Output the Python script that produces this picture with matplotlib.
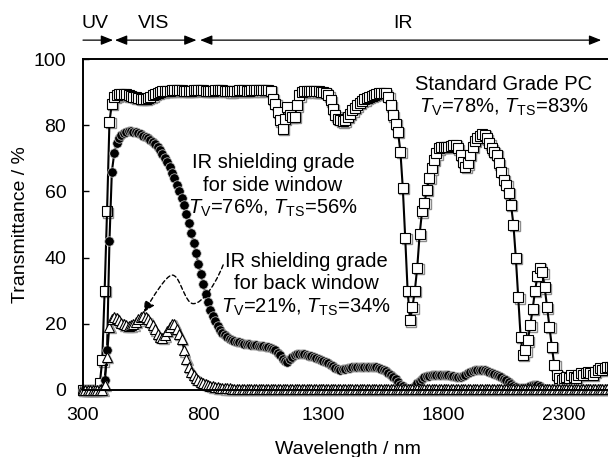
import numpy as np
import matplotlib
matplotlib.use('agg')
import matplotlib.pyplot as plt
from matplotlib.path import Path
from matplotlib.patches import FancyArrowPatch
from matplotlib.transforms import ScaledTranslation, blended_transform_factory

plt.rcParams['font.family'] = 'Liberation Sans'
plt.rcParams['mathtext.fontset'] = 'custom'
plt.rcParams['mathtext.rm'] = 'Liberation Sans'
plt.rcParams['mathtext.it'] = 'Liberation Sans:italic'

# wavelength grid (nm), one reading every 10 nm
wavelength = np.arange(300, 2501, 10)

# Standard Grade PC (squares)
pc = [0, 0, 0, 0, 0, 0, 0, 2, 9, 30,
      54, 81, 86.5, 88.5, 89, 89.3, 89.5, 89.5, 89.3, 89,
      88.8, 88.6, 88.4, 88.2, 88, 88, 88, 88.2, 88.5, 89,
      89.5, 89.8, 90, 90.2, 90.3, 90.3, 90.4, 90.5, 90.5, 90.6,
      90.6, 90.5, 90.4, 90.3, 90.3, 90.4, 90.5, 90.6, 90.6, 90.6,
      90.5, 90.4, 90.3, 90.3, 90.4, 90.5, 90.6, 90.6, 90.5, 90.4,
      90.3, 90.2, 90.2, 90.3, 90.4, 90.5, 90.5, 90.5, 90.4, 90.4,
      90.5, 90.6, 90.6, 90.5, 90.5, 90.6, 90.7, 90.7, 90.4, 88,
      86.5, 84, 81.5, 79, 82, 85.5, 83, 82.5, 82.5, 86,
      89, 90, 90.2, 90.3, 90.3, 90.3, 90.2, 90.2, 90.2, 90.1,
      90, 89.7, 89, 87.5, 85, 83, 82, 81.5, 81.2, 81.5,
      82.5, 83.5, 84.5, 85.3, 86, 86.7, 87.3, 87.8, 88.2, 88.6,
      88.9, 89.2, 89.4, 89.6, 89.7, 89.8, 89.6, 88.5, 86, 83,
      80.5, 78, 72, 61, 46, 30, 21, 25, 30, 37,
      47, 54, 56.5, 60.5, 64, 67, 69.5, 71.5, 73, 73.5,
      73.5, 73.5, 73.5, 73.7, 74, 74, 73, 71, 69, 67.5,
      68.5, 71, 73.5, 75.3, 76.2, 76.8, 77.2, 77, 76, 74.5,
      73, 72, 71, 68.5, 66, 63.5, 62, 59.5, 56, 50,
      40, 28, 16, 10.6, 12, 15, 19.5, 24.5, 30, 34.5,
      37, 35.5, 31, 25, 19, 13, 7.5, 4.5, 3.5, 3,
      3.5, 4, 3.5, 4.5, 4, 3.5, 4.5, 5, 4.5, 5,
      5.5, 5, 4.5, 5.5, 6, 6.5, 6, 6.5, 7, 7,
      7]

# IR shielding grade for side window (filled circles)
side = [0, 0, 0, 0, 0, 0, 0, 0, 0.5, 3,
        12, 45, 66, 71.5, 74.5, 76, 77, 77.7, 78, 78.2,
        78.2, 78, 77.8, 77.5, 77.2, 76.8, 76.4, 76, 75.5, 75,
        74.3, 73.5, 72.5, 71.3, 70, 68.8, 67.3, 65.7, 64, 62,
        60, 58, 55.8, 53.2, 50.5, 47.5, 44.5, 41.3, 38.2, 35,
        32, 29, 26.5, 24.3, 22.3, 20.7, 19.3, 18.2, 17.3, 16.6,
        16, 15.5, 15.2, 14.9, 14.6, 14.4, 14.2, 14, 13.9, 13.8,
        13.7, 13.6, 13.5, 13.4, 13.3, 13.2, 13.1, 13, 12.8, 12.5,
        12, 11.3, 10.5, 9.5, 8.7, 8.5, 9.3, 10, 10.7, 11,
        11, 10.9, 10.8, 10.6, 10.4, 10.2, 10, 9.8, 9.5, 9.2,
        8.9, 8.5, 8.1, 7.7, 7.2, 6.7, 6.3, 6.1, 6.2, 6.4,
        6.6, 6.7, 6.8, 6.9, 7, 7, 7, 7, 7, 7,
        7, 6.9, 6.8, 6.6, 6.4, 6, 5.6, 5.1, 4.6, 4,
        3.2, 2.4, 1.6, 1.1, 0.6, 0.3, 0.3, 0.5, 1.2, 2,
        2.7, 3.3, 3.8, 4.1, 4.3, 4.4, 4.5, 4.6, 4.6, 4.6,
        4.6, 4.5, 4.4, 4.3, 4.2, 4, 3.9, 3.9, 4.1, 4.5,
        5, 5.4, 5.7, 5.9, 6, 6, 6, 5.9, 5.7, 5.4,
        5.1, 4.8, 4.5, 4.2, 3.8, 3.4, 2.9, 2.4, 1.8, 1.3,
        0.9, 0.6, 0.5, 0.5, 0.6, 0.8, 1.1, 1.4, 1.6, 1.5,
        1.1, 0.6, 0.4, 0.3, 0.3, 0.3, 0.3, 0.3, 0.3, 0.3,
        0.3, 0.3, 0.3, 0.3, 0.3, 0.3, 0.3, 0.3, 0.3, 0.3,
        0.3, 0.3, 0.3, 0.3, 0.3, 0.3, 0.3, 0.3, 0.3, 0.3,
        0.3]

# IR shielding grade for back window (open triangles)
back = [0, 0, 0, 0, 0, 0, 0, 0, 0, 1.5,
        10, 19, 21.5, 22, 21.8, 21, 20.3, 19.8, 19.5, 19.4,
        19.5, 19.8, 20.5, 21.3, 22, 22.3, 22, 21.3, 20.5, 19.5,
        18.3, 17, 16, 15.8, 16.5, 17.8, 19, 19.8, 20, 18.5,
        17, 15.5, 12, 9.5, 7, 5.5, 4.5, 3.5, 3, 2.5,
        2.2, 1.8, 1.5, 1.3, 1.1, 1, 0.8, 0.7, 0.6, 0.5,
        0.5, 0.5, 0.4, 0.4, 0.4, 0.4, 0.4, 0.4, 0.4, 0.4,
        0.4, 0.4, 0.4, 0.4, 0.4, 0.4, 0.4, 0.4, 0.4, 0.4,
        0.4, 0.4, 0.4, 0.4, 0.4, 0.4, 0.4, 0.4, 0.4, 0.4,
        0.4, 0.4, 0.4, 0.4, 0.4, 0.4, 0.4, 0.4, 0.4, 0.4,
        0.3, 0.3, 0.3, 0.3, 0.3, 0.3, 0.3, 0.3, 0.3, 0.3,
        0.3, 0.3, 0.3, 0.3, 0.3, 0.3, 0.3, 0.3, 0.3, 0.3,
        0.3, 0.3, 0.3, 0.3, 0.3, 0.3, 0.3, 0.3, 0.3, 0.3,
        0.3, 0.3, 0.3, 0.3, 0.3, 0.3, 0.3, 0.3, 0.3, 0.3,
        0.3, 0.3, 0.3, 0.3, 0.3, 0.3, 0.3, 0.3, 0.3, 0.3,
        0.3, 0.3, 0.3, 0.3, 0.3, 0.3, 0.3, 0.3, 0.3, 0.3,
        0.3, 0.3, 0.3, 0.3, 0.3, 0.3, 0.3, 0.3, 0.3, 0.3,
        0.3, 0.3, 0.3, 0.3, 0.3, 0.3, 0.3, 0.3, 0.3, 0.3,
        0.3, 0.3, 0.3, 0.3, 0.3, 0.3, 0.3, 0.3, 0.3, 0.3,
        0.3, 0.3, 0.3, 0.3, 0.3, 0.3, 0.3, 0.3, 0.3, 0.3,
        0.3, 0.3, 0.3, 0.3, 0.3, 0.3, 0.3, 0.3, 0.3, 0.3,
        0.3, 0.3, 0.3, 0.3, 0.3, 0.3, 0.3, 0.3, 0.3, 0.3,
        0.3]

xticks = [300, 800, 1300, 1800, 2300]
yticks = [0, 20, 40, 60, 80, 100]

fig = plt.figure(figsize=(6.08, 4.57), dpi=100)
ax = fig.add_axes([83 / 608, 67 / 457, 529 / 608, 331 / 457])

# small grey drop shadow behind open markers
shadow = ax.transData + ScaledTranslation(0.013, -0.013, fig.dpi_scale_trans)

ax.plot(wavelength, pc, ls='none', marker='s', ms=7.2, mfc='white', mec='0.55',
        mew=1.0, transform=shadow, clip_on=False, zorder=2)
ax.plot(wavelength, pc, color='black', lw=1.5, marker='s', ms=7.2, mfc='white',
        mec='black', mew=0.8, clip_on=False, zorder=2.1)
ax.plot(wavelength, side, color='black', lw=1.5, marker='o', ms=6.8, mfc='black',
        mec='0.8', mew=0.5, clip_on=False, zorder=2.2)
ax.plot(wavelength, back, ls='none', marker='^', ms=7.4, mfc='white', mec='0.6',
        mew=1.0, transform=shadow, clip_on=False, zorder=2.3)
ax.plot(wavelength, back, color='black', lw=1.2, marker='^', ms=7.4, mfc='white',
        mec='black', mew=0.8, clip_on=False, zorder=2.4)

ax.set_xlim(300, 2500)
ax.set_ylim(0, 100)
ax.set_xticks(xticks)
ax.set_yticks(yticks)
ax.tick_params(direction='in', length=4, width=1, labelsize=14, pad=12)
ax.spines['right'].set_visible(False)
for s in ['left', 'bottom', 'top']:
    ax.spines[s].set_linewidth(1.4)

ax.set_xlabel('Wavelength / nm', fontsize=14, va='center')
ax.xaxis.set_label_coords(0.5, -0.18)
ax.set_ylabel('Transmittance / %', fontsize=14, va='center')
ax.yaxis.set_label_coords(-0.119, 0.5)

# UV / VIS / IR ranges above the plot
trans = blended_transform_factory(ax.transData, ax.transAxes)
head = 'head_length=0.4,head_width=0.16'
ranges = [(300, 425, '-|>'), (433, 772, '<|-|>'), (787, 2455, '<|-|>')]
for x0, x1, st in ranges:
    ax.annotate('', xy=(x1, 1.057), xytext=(x0, 1.057), xycoords=trans,
                textcoords=trans, annotation_clip=False,
                arrowprops=dict(arrowstyle=st + ',' + head, mutation_scale=18,
                                lw=0.9, color='black', shrinkA=0, shrinkB=0))
for x, lab in [(350, 'UV'), (595, 'VIS'), (1630, 'IR')]:
    ax.text(x, 1.107, lab, transform=trans, ha='center', va='center', fontsize=14)

# labels
ax.text(2050, 88.6, 'Standard Grade PC\n$T_\\mathrm{V}$=78%, $T_\\mathrm{TS}$=83%',
        ha='center', va='center', fontsize=14.5, linespacing=1.2)
ax.text(1090, 61.5, 'IR shielding grade\nfor side window\n$T_\\mathrm{V}$=76%, $T_\\mathrm{TS}$=56%',
        ha='center', va='center', fontsize=14.5, linespacing=1.22)
ax.text(1227, 31.8, 'IR shielding grade\nfor back window\n$T_\\mathrm{V}$=21%, $T_\\mathrm{TS}$=34%',
        ha='center', va='center', fontsize=14.5, linespacing=1.22)

# dashed curved pointer to the back window curve
verts = [(883, 37.8), (840, 30), (775, 24.5), (745, 26.5),
         (715, 28.5), (700, 35), (669, 34.7),
         (645, 34.5), (590, 28), (553, 23.5)]
codes = [Path.MOVETO] + [Path.CURVE4] * 9
arr = FancyArrowPatch(path=Path(verts, codes), arrowstyle='-|>,head_length=0.4,head_width=0.2',
                      mutation_scale=16, linestyle=(0, (3, 2)), lw=1, color='black', zorder=5)
ax.add_patch(arr)

fig.savefig('out.png', dpi=100)
